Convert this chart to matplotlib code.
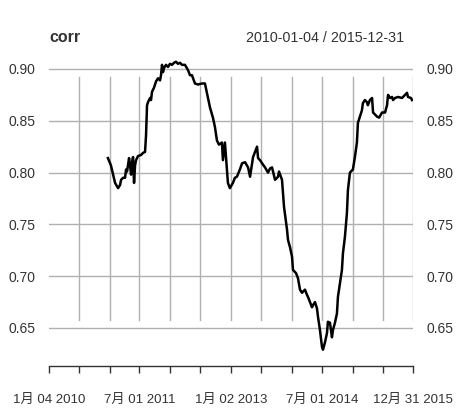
import numpy as np
import matplotlib
matplotlib.use('Agg')
import matplotlib.pyplot as plt

plt.rcParams['font.family'] = ['Liberation Sans', 'Noto Sans CJK SC', 'DejaVu Sans']

# Данные: дни от 2010-01-04 и значения скользящей корреляции
start = np.datetime64('2010-01-04')
end = np.datetime64('2015-12-31')
day = [354, 372, 385, 397, 415, 427, 433, 445, 457, 463, 469, 481, 487, 493, 499,
       505, 511, 517, 523, 535, 553, 565, 577, 583, 586, 589, 595, 607, 613, 619,
       631, 643, 655, 667, 673, 679, 685, 691, 703, 715, 727, 739, 751, 763, 775,
       787, 799, 817, 835, 847, 859, 877, 895, 919, 937, 949, 967, 985, 997, 1009,
       1021, 1039, 1045, 1057, 1069, 1075, 1087, 1105, 1117, 1129, 1147, 1160, 1178,
       1196, 1208, 1226, 1238, 1250, 1256, 1268, 1280, 1298, 1316, 1328, 1340, 1358,
       1376, 1382, 1400, 1412, 1430, 1436, 1448, 1460, 1466, 1484, 1496, 1508, 1520,
       1538, 1550, 1556, 1568, 1580, 1586, 1598, 1610, 1616, 1628, 1640, 1646, 1658,
       1670, 1676, 1688, 1700, 1706, 1718, 1730, 1736, 1748, 1760, 1766, 1778, 1790,
       1796, 1808, 1826, 1838, 1850, 1856, 1868, 1880, 1886, 1898, 1910, 1916, 1928,
       1941, 1947, 1959, 1971, 1983, 2001, 2019, 2031, 2037, 2049, 2061, 2067, 2079,
       2097, 2121, 2139, 2151, 2157, 2175, 2181]
corr = [0.814, 0.807, 0.798, 0.790, 0.785, 0.788, 0.793, 0.795, 0.795, 0.803, 0.801,
        0.814, 0.807, 0.798, 0.810, 0.815, 0.790, 0.807, 0.812, 0.816, 0.817, 0.819,
        0.820, 0.836, 0.851, 0.865, 0.868, 0.872, 0.870, 0.878, 0.882, 0.888, 0.891,
        0.889, 0.894, 0.904, 0.897, 0.901, 0.904, 0.902, 0.905, 0.904, 0.906, 0.907,
        0.905, 0.906, 0.904, 0.904, 0.899, 0.894, 0.894, 0.886, 0.885, 0.886, 0.886,
        0.877, 0.863, 0.853, 0.844, 0.831, 0.827, 0.829, 0.812, 0.829, 0.803, 0.790,
        0.785, 0.790, 0.795, 0.796, 0.803, 0.809, 0.810, 0.805, 0.796, 0.815, 0.820,
        0.825, 0.814, 0.812, 0.809, 0.805, 0.800, 0.804, 0.805, 0.793, 0.796, 0.801,
        0.793, 0.767, 0.745, 0.735, 0.728, 0.719, 0.706, 0.703, 0.698, 0.687, 0.684,
        0.687, 0.682, 0.680, 0.675, 0.670, 0.672, 0.675, 0.669, 0.661, 0.648, 0.632,
        0.629, 0.636, 0.645, 0.656, 0.655, 0.641, 0.648, 0.655, 0.664, 0.680, 0.693,
        0.706, 0.722, 0.738, 0.761, 0.783, 0.800, 0.803, 0.815, 0.829, 0.848, 0.854,
        0.860, 0.867, 0.870, 0.868, 0.865, 0.870, 0.872, 0.858, 0.856, 0.854, 0.853,
        0.858, 0.858, 0.865, 0.875, 0.872, 0.873, 0.870, 0.872, 0.873, 0.872, 0.875,
        0.877, 0.873, 0.872, 0.870]

tick_dates = ['2010-01-04', '2010-07-01', '2011-01-03', '2011-07-01', '2012-01-03',
              '2012-07-02', '2013-01-02', '2013-07-01', '2014-01-02', '2014-07-01',
              '2015-01-02', '2015-07-01', '2015-12-31']
tick_labels = ['1月 04 2010', '', '', '7月 01 2011', '', '', '1月 02 2013', '', '',
               '7月 01 2014', '', '', '12月 31 2015']
y_ticks = [0.65, 0.70, 0.75, 0.80, 0.85, 0.90]

dates = start + np.array(day).astype('timedelta64[D]')
ticks = np.array(tick_dates, dtype='datetime64[D]')

fig = plt.figure(figsize=(4.63, 4.18), dpi=100)
W, H = 463, 418
ax = fig.add_axes([49 / W, (H - 366) / H, 364 / W, 311 / H])

ax.plot(dates, corr, color='black', lw=1.8, zorder=3)

ax.set_xlim(start, end)
ax.set_ylim(0.6133, 0.9135)

# сетка
gcol = '#b0b0b0'
for v in y_ticks:
    ax.axhline(v, color=gcol, lw=1, zorder=1)
for t in ticks[1:]:
    ax.axvline(t, ymin=0.148, ymax=0.929, color=gcol, lw=1, zorder=1)

for s in ['top', 'left', 'right']:
    ax.spines[s].set_visible(False)
ax.spines['bottom'].set_color('#333333')
ax.spines['bottom'].set_linewidth(1)

ax.set_xticks(ticks)
ax.set_xticklabels(tick_labels, fontsize=9.5, color='#333333')
ax.tick_params(axis='x', direction='out', length=5, width=1, color='#333333', pad=15)

ax.set_yticks(y_ticks)
ax.set_yticklabels(['%.2f' % v for v in y_ticks])
ax.tick_params(axis='y', length=0, labelsize=10, labelcolor='#333333',
               left=True, right=True, labelleft=True, labelright=True, pad=10)

fig.text(49 / W, 1 - 38 / H, 'corr', fontsize=11.5, fontweight='bold',
         color='#333333', va='center', ha='left')
fig.text(404 / W, 1 - 38 / H, '2010-01-04 / 2015-12-31', fontsize=10.3,
         color='#333333', va='center', ha='right')

fig.savefig('out.png', dpi=100)
